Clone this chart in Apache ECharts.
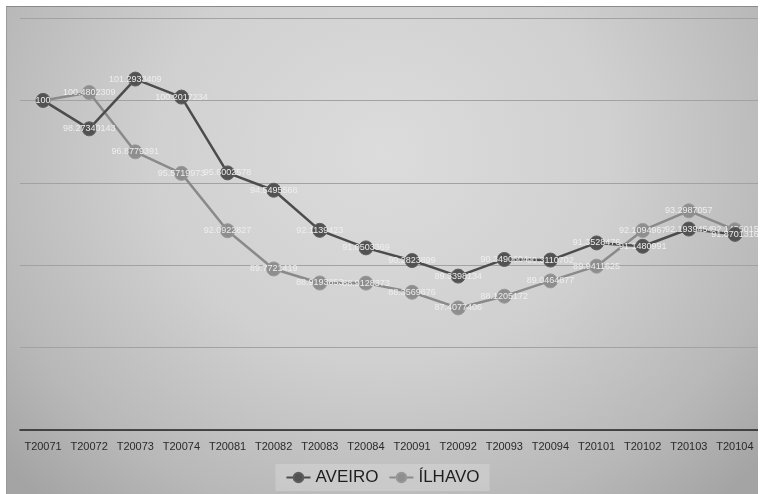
<!DOCTYPE html>
<html>
<head>
<meta charset="utf-8">
<script src="https://cdn.jsdelivr.net/npm/echarts@6/dist/echarts.min.js"></script>
<style>
  html, body { margin: 0; padding: 0; background: #ffffff; }
  #chart {
    position: absolute; left: 6px; top: 6px; width: 752px; height: 488px;
    box-sizing: border-box; border-top: 1px solid #8a8a8a; border-left: 1px solid #9a9a9a;
    background: radial-gradient(ellipse 68% 95% at 50% 30%, #dcdcdc 0%, #d0d0d0 45%, #b8b8b8 80%, #a4a4a4 100%);
  }
</style>
</head>
<body>
<div id="chart"></div>
<script>
// Quarterly index, base T20071 = 100
const quarters = ['T20071','T20072','T20073','T20074','T20081','T20082','T20083','T20084',
                  'T20091','T20092','T20093','T20094','T20101','T20102','T20103','T20104'];
const aveiro = [100, 98.27340143, 101.2933409, 100.2017234, 95.6002578, 94.5495568, 92.1139423, 91.0503369,
                90.2823899, 89.3398134, 90.3490604, 90.3110702, 91.3528476, 91.1480991, 92.1939454, 91.8701316];
const ilhavo = [100, 100.4802309, 96.8779391, 95.5719973, 92.0922827, 89.7721419, 88.9193853, 88.9128373,
                88.3569676, 87.4077406, 88.1205172, 89.0464877, 89.9411625, 92.1094967, 93.2987057, 92.1456015];
const yTicks = { min: 80, max: 105, step: 5 };

const chart = echarts.init(document.getElementById('chart'), null, { renderer: 'canvas' });

const labelStyle = {
  show: true,
  position: 'inside',
  color: '#eeeeee',
  fontSize: 9,
  fontFamily: 'Liberation Sans',
  formatter: p => String(p.value)
};

chart.setOption({
  backgroundColor: 'transparent',
  animation: false,
  grid: { left: 13, right: 0, top: 11, bottom: 64 },
  xAxis: {
    type: 'category',
    data: quarters,
    boundaryGap: true,
    axisLine: { lineStyle: { color: '#222222', width: 1.5 } },
    axisTick: { show: false },
    axisLabel: { interval: 0, color: '#2a2a2a', fontSize: 11, fontFamily: 'Liberation Sans', margin: 11 }
  },
  yAxis: {
    type: 'value',
    min: yTicks.min, max: yTicks.max, interval: yTicks.step,
    axisLine: { show: false },
    axisTick: { show: false },
    axisLabel: { show: false },
    splitLine: { lineStyle: { color: '#a2a2a2', width: 1 } }
  },
  legend: {
    bottom: 3,
    left: 'center',
    itemWidth: 24,
    itemHeight: 12,
    itemGap: 10,
    padding: [5, 10, 5, 10],
    backgroundColor: 'rgba(225,225,225,0.35)',
    textStyle: { color: '#1e1e1e', fontSize: 17, fontFamily: 'Liberation Sans' },
    data: ['AVEIRO', 'ÍLHAVO']
  },
  series: [
    {
      name: 'AVEIRO',
      type: 'line',
      data: aveiro,
      symbol: 'circle',
      symbolSize: 14,
      lineStyle: { color: '#4c4c4c', width: 2.5 },
      itemStyle: { color: '#525252', borderColor: '#5e5e5e', borderWidth: 1 },
      label: labelStyle,
      z: 3
    },
    {
      name: 'ÍLHAVO',
      type: 'line',
      data: ilhavo,
      symbol: 'circle',
      symbolSize: 14,
      lineStyle: { color: '#8a8a8a', width: 2.5 },
      itemStyle: { color: '#8e8e8e', borderColor: '#989898', borderWidth: 1 },
      label: labelStyle,
      z: 2
    }
  ]
});
</script>
</body>
</html>
